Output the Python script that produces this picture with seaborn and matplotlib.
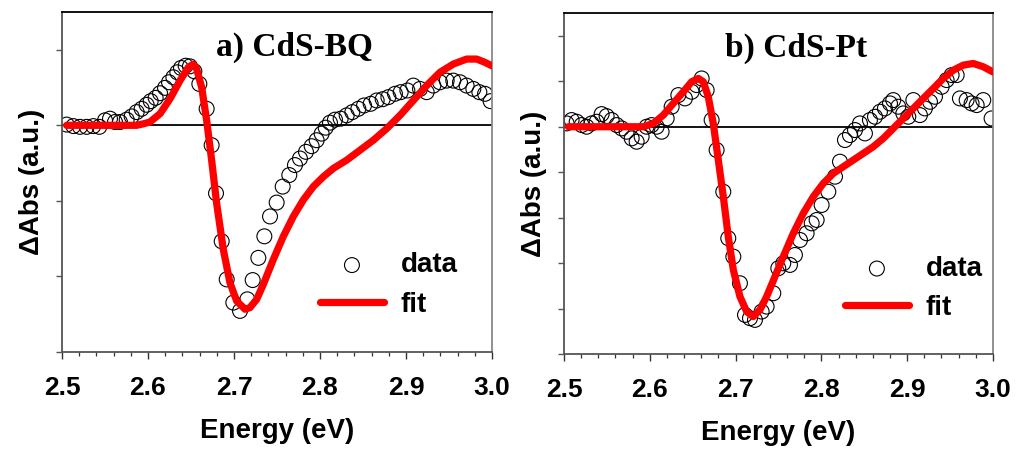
import matplotlib
matplotlib.use("Agg")
import matplotlib.pyplot as plt
from matplotlib.ticker import MultipleLocator
import seaborn as sns

# ---- panel a) CdS-BQ : measured transient spectrum ----
bq_data_E = [2.5054, 2.5132, 2.5209, 2.5287, 2.5364, 2.5434, 2.5500, 2.5558, 2.5616, 2.5674,
             2.5752, 2.5810, 2.5868, 2.5926, 2.5984, 2.6031, 2.6089, 2.6140, 2.6198, 2.6244,
             2.6295, 2.6341, 2.6384, 2.6438, 2.6488, 2.6539, 2.6597, 2.6682, 2.6740, 2.6791,
             2.6857, 2.6915, 2.6992, 2.7070, 2.7155, 2.7217, 2.7283, 2.7353, 2.7419, 2.7496,
             2.7566, 2.7643, 2.7709, 2.7767, 2.7837, 2.7903, 2.7961, 2.8019, 2.8066, 2.8116,
             2.8174, 2.8240, 2.8310, 2.8376, 2.8446, 2.8512, 2.8589, 2.8659, 2.8729, 2.8795,
             2.8872, 2.8938, 2.9016, 2.9085, 2.9163, 2.9240, 2.9318, 2.9395, 2.9473, 2.9550,
             2.9628, 2.9705, 2.9783, 2.9853, 2.9919, 2.9984]
bq_data_A = [0.01, -0.01, -0.02, -0.02, -0.01, -0.02, 0.066, 0.088, 0.044, 0.044,
             0.075, 0.118, 0.175, 0.219, 0.272, 0.320, 0.364, 0.425, 0.496, 0.570,
             0.636, 0.702, 0.759, 0.789, 0.781, 0.715, 0.548, 0.219, -0.263, -0.899,
             -1.535, -2.039, -2.346, -2.456, -2.303, -2.048, -1.754, -1.469, -1.206, -1.022,
             -0.811, -0.658, -0.526, -0.439, -0.351, -0.276, -0.197, -0.110, -0.031, 0.035,
             0.075, 0.088, 0.132, 0.175, 0.219, 0.263, 0.285, 0.329, 0.346, 0.373,
             0.417, 0.439, 0.461, 0.526, 0.482, 0.439, 0.526, 0.570, 0.592, 0.592,
             0.570, 0.526, 0.482, 0.439, 0.417, 0.320]

# ---- panel a) fitted curve ----
bq_fit_E = [2.5054, 2.5364, 2.5752, 2.5868, 2.5946, 2.6023, 2.6140, 2.6256, 2.6372, 2.6469,
            2.6527, 2.6566, 2.6624, 2.6682, 2.6740, 2.6798, 2.6876, 2.6953, 2.7031, 2.7128,
            2.7186, 2.7264, 2.7341, 2.7457, 2.7574, 2.7690, 2.7806, 2.7922, 2.8039, 2.8155,
            2.8310, 2.8465, 2.8620, 2.8775, 2.8930, 2.9085, 2.9240, 2.9395, 2.9550, 2.9705,
            2.9822, 2.9919, 2.9996]
bq_fit_A = [0.0, 0.0, 0.0, 0.0, 0.02, 0.044, 0.154, 0.351, 0.592, 0.768,
            0.811, 0.746, 0.504, 0.066, -0.461, -1.031, -1.645, -2.083, -2.325, -2.434,
            -2.412, -2.303, -2.105, -1.776, -1.469, -1.206, -0.987, -0.811, -0.680, -0.570,
            -0.461, -0.329, -0.197, -0.044, 0.132, 0.329, 0.526, 0.702, 0.811, 0.877,
            0.877, 0.833, 0.789]

# ---- panel b) CdS-Pt : measured transient spectrum ----
pt_data_E = [2.5031, 2.5089, 2.5148, 2.5206, 2.5264, 2.5322, 2.5381, 2.5439, 2.5497, 2.5556,
             2.5614, 2.5672, 2.5730, 2.5789, 2.5847, 2.5905, 2.5963, 2.6022, 2.6080, 2.6138,
             2.6197, 2.6255, 2.6333, 2.6410, 2.6488, 2.6546, 2.6605, 2.6663, 2.6721, 2.6779,
             2.6857, 2.6915, 2.6974, 2.7051, 2.7110, 2.7168, 2.7226, 2.7304, 2.7362, 2.7440,
             2.7498, 2.7556, 2.7634, 2.7692, 2.7751, 2.7828, 2.7887, 2.7945, 2.8003, 2.8081,
             2.8159, 2.8217, 2.8275, 2.8333, 2.8392, 2.8450, 2.8508, 2.8566, 2.8625, 2.8683,
             2.8741, 2.8800, 2.8838, 2.8897, 2.8955, 2.9013, 2.9072, 2.9149, 2.9207, 2.9266,
             2.9324, 2.9402, 2.9460, 2.9518, 2.9577, 2.9615, 2.9693, 2.9751, 2.9810, 2.9887,
             2.9984]
pt_data_A = [0.073, 0.147, 0.110, 0.037, 0.0, 0.073, 0.110, 0.278, 0.234, 0.147,
             0.037, -0.037, -0.110, -0.256, -0.330, -0.220, 0.0, 0.037, 0.0, -0.110,
             0.183, 0.440, 0.696, 0.623, 0.769, 0.916, 1.062, 0.806, 0.147, -0.513,
             -1.429, -2.454, -2.857, -3.443, -4.139, -4.212, -4.249, -4.066, -3.956, -3.663,
             -3.114, -3.004, -3.040, -2.821, -2.491, -2.344, -2.125, -2.051, -1.722, -1.429,
             -1.099, -0.769, -0.293, -0.183, -0.073, 0.073, -0.147, 0.147, 0.220, 0.330,
             0.403, 0.513, 0.586, 0.440, 0.293, 0.220, 0.586, 0.256, 0.403, 0.549,
             0.659, 0.879, 1.026, 1.136, 1.136, 0.623, 0.586, 0.513, 0.476, 0.586,
             0.183]

# ---- panel b) fitted curve ----
pt_fit_E = [2.5051, 2.5342, 2.5730, 2.5925, 2.6041, 2.6158, 2.6274, 2.6391, 2.6488, 2.6566,
            2.6624, 2.6682, 2.6740, 2.6799, 2.6857, 2.6915, 2.6974, 2.7051, 2.7129, 2.7207,
            2.7284, 2.7362, 2.7459, 2.7556, 2.7673, 2.7789, 2.7906, 2.8023, 2.8139, 2.8256,
            2.8372, 2.8489, 2.8605, 2.8722, 2.8838, 2.8955, 2.9072, 2.9188, 2.9305, 2.9421,
            2.9538, 2.9654, 2.9771, 2.9887, 2.9996]
pt_fit_A = [0.0, 0.0, 0.0, 0.0, 0.073, 0.256, 0.513, 0.769, 0.989, 1.062,
            0.989, 0.659, 0.073, -0.733, -1.538, -2.418, -3.150, -3.736, -4.066, -4.176,
            -4.029, -3.736, -3.297, -2.857, -2.344, -1.905, -1.538, -1.245, -1.026, -0.879,
            -0.733, -0.586, -0.440, -0.256, -0.037, 0.183, 0.403, 0.623, 0.842, 1.062,
            1.245, 1.355, 1.392, 1.319, 1.209]

panel_titles = ["a) CdS-BQ", "b) CdS-Pt"]
x_ticks = [2.5, 2.6, 2.7, 2.8, 2.9, 3.0]
x_label = "Energy (eV)"
y_label = "\u0394Abs (a.u.)"

sns.set_theme(style="white")
plt.rcParams["font.family"] = ["Liberation Sans", "DejaVu Sans"]
plt.rcParams["font.weight"] = "bold"
plt.rcParams["text.color"] = "black"
plt.rcParams["axes.labelcolor"] = "black"
plt.rcParams["xtick.labelcolor"] = "black"

fig = plt.figure(figsize=(10.18, 4.51), dpi=100)
ax_a = fig.add_axes([0.0609, 0.2195, 0.4224, 0.7539])
ax_b = fig.add_axes([0.5540, 0.2150, 0.4214, 0.7560])

panels = [
    (ax_a, bq_data_E, bq_data_A, bq_fit_E, bq_fit_A, (-3.0, 1.5), 1.0, (0.60, 0.293)),
    (ax_b, pt_data_E, pt_data_A, pt_fit_E, pt_fit_A, (-5.0, 2.5), 1.0, (0.655, 0.288)),
]

for i, (ax, dE, dA, fE, fA, ylim, ystep, leg_anchor) in enumerate(panels):
    ax.axhline(0, color="black", lw=1.3, zorder=1)
    sns.scatterplot(x=dE, y=dA, ax=ax, marker="o", s=115,
                    facecolors="none", edgecolor="black", linewidth=0.8,
                    zorder=2, label="data")
    sns.lineplot(x=fE, y=fA, ax=ax, color="#ff0000", lw=5.2, zorder=3,
                 label="fit", sort=True)

    ax.set_xlim(2.5, 3.0)
    ax.set_ylim(*ylim)
    ax.set_xticks(x_ticks)
    ax.set_xticklabels([f"{t:.1f}" for t in x_ticks])
    ax.xaxis.set_minor_locator(MultipleLocator(0.02))
    ax.yaxis.set_major_locator(MultipleLocator(ystep))
    ax.set_yticklabels([])

    ax.tick_params(axis="x", which="major", direction="out", length=5, width=1.0,
                   color="#333333", labelcolor="black", labelsize=19, pad=12, bottom=True)
    ax.tick_params(axis="x", which="minor", direction="out", length=3, width=0.9,
                   color="#333333", bottom=True)
    ax.tick_params(axis="y", which="major", direction="out", length=4, width=1.0,
                   color="#555555", left=True)
    for lab in ax.get_xticklabels():
        lab.set_fontweight("bold")

    ax.set_xlabel(x_label, fontsize=20, fontweight="bold", labelpad=13, color="black")
    ax.set_ylabel(y_label, fontsize=20, fontweight="bold", labelpad=5, color="black")

    for side in ("left", "bottom"):
        ax.spines[side].set_color("#555555")
        ax.spines[side].set_linewidth(1.3)
    ax.spines["right"].set_color("#888888")
    ax.spines["right"].set_linewidth(1.3)
    ax.spines["top"].set_color("black")
    ax.spines["top"].set_linewidth(1.3)

    ax.text(0.54, 0.897, panel_titles[i], transform=ax.transAxes,
            ha="center", va="center", fontsize=24, fontweight="bold", color="black",
            family=["Liberation Serif", "DejaVu Serif"])

    handles, labels = ax.get_legend_handles_labels()
    order = [labels.index("data"), labels.index("fit")]
    leg = ax.legend([handles[k] for k in order], [labels[k] for k in order],
                    loc="upper left", bbox_to_anchor=leg_anchor, frameon=False,
                    handlelength=2.3, handletextpad=0.6,
                    labelspacing=0.48, borderpad=0, borderaxespad=0, scatterpoints=1,
                    prop={"weight": "bold", "size": 20})
    for t in leg.get_texts():
        t.set_color("black")

fig.savefig("out.png", dpi=100)
